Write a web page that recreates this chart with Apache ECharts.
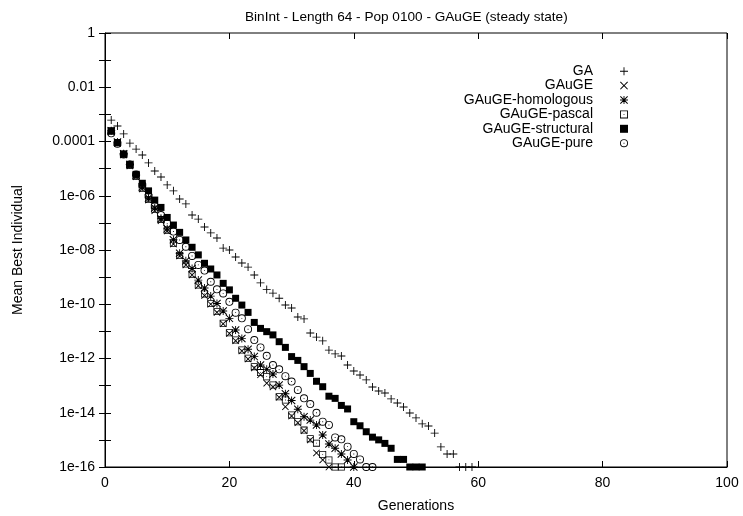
<!DOCTYPE html>
<html>
<head>
<meta charset="utf-8">
<script src="https://cdn.jsdelivr.net/npm/echarts@6/dist/echarts.min.js"></script>
<style>
html,body{margin:0;padding:0;background:#fff;}
#chart{width:743px;height:516px;}
</style>
</head>
<body>
<div id="chart"></div>
<script>
// log10 of "Mean Best Individual" per generation (generation 1, 2, 3, ...)
const seriesNames = ['GA', 'GAuGE', 'GAuGE-homologous', 'GAuGE-pascal', 'GAuGE-structural', 'GAuGE-pure'];

const gaLog = [-3.21,-3.43,-3.72,-4.06,-4.28,-4.50,-4.79,-5.09,-5.31,-5.60,
  -5.82,-6.12,-6.30,-6.71,-6.86,-7.15,-7.37,-7.56,-7.93,-8.00,
  -8.26,-8.48,-8.63,-8.92,-9.21,-9.46,-9.59,-9.78,-10.03,-10.14,
  -10.47,-10.54,-11.06,-11.21,-11.35,-11.69,-11.83,-11.91,-12.24,-12.46,
  -12.61,-12.79,-13.05,-13.20,-13.27,-13.49,-13.64,-13.79,-14.01,-14.19,
  -14.41,-14.49,-14.75,-15.26,-15.52,-15.52,-16,-16,-16];

const gaugeLog = [-3.63,-4.07,-4.50,-4.90,-5.30,-5.75,-6.16,-6.55,-6.92,-7.30,
  -7.78,-8.22,-8.55,-8.92,-9.32,-9.68,-10.00,-10.30,-10.72,-11.08,
  -11.35,-11.72,-12.02,-12.35,-12.60,-12.91,-13.05,-13.43,-13.78,-14.12,
  -14.37,-14.66,-15.00,-15.48,-15.74,-16];

const homologousLog = [-3.60,-4.02,-4.45,-4.85,-5.25,-5.68,-6.08,-6.45,-6.85,-7.22,
  -7.62,-8.12,-8.40,-8.68,-9.11,-9.40,-9.70,-9.97,-10.25,-10.52,
  -10.95,-11.26,-11.66,-11.93,-12.24,-12.40,-12.57,-12.98,-13.30,-13.55,
  -13.87,-14.15,-14.27,-14.45,-14.82,-15.15,-15.31,-15.52,-15.74,-16];

const pascalLog = [-3.60,-4.05,-4.48,-4.88,-5.28,-5.72,-6.14,-6.50,-6.88,-7.27,
  -7.75,-8.20,-8.52,-8.89,-9.29,-9.62,-9.97,-10.27,-10.70,-11.05,
  -11.32,-11.69,-11.99,-12.30,-12.52,-12.67,-12.98,-13.41,-13.53,-14.08,
  -14.33,-14.64,-14.96,-15.12,-15.54,-15.74,-16,-16];

const structuralLog = [-3.62,-4.04,-4.46,-4.84,-5.21,-5.54,-5.82,-6.16,-6.43,-6.80,
  -7.08,-7.35,-7.63,-7.90,-8.18,-8.49,-8.70,-8.92,-9.23,-9.47,
  -9.78,-10.03,-10.30,-10.67,-10.89,-11.01,-11.13,-11.38,-11.59,-11.93,
  -12.07,-12.30,-12.55,-12.84,-13.04,-13.39,-13.47,-13.73,-13.86,-14.33,
  -14.48,-14.70,-14.90,-15.00,-15.13,-15.31,-15.72,-15.72,-16,-16,-16];

const pureLog = [-3.70,-4.08,-4.48,-4.85,-5.22,-5.60,-6.00,-6.38,-6.71,-7.02,
  -7.32,-7.63,-7.88,-8.22,-8.55,-8.76,-9.17,-9.45,-9.60,-9.91,
  -10.31,-10.52,-10.92,-11.32,-11.59,-11.90,-12.24,-12.40,-12.65,-12.85,
  -13.16,-13.47,-13.68,-14.00,-14.33,-14.45,-14.91,-14.98,-15.25,-15.52,
  -15.72,-16,-16];

const xTicks = [0, 20, 40, 60, 80, 100];

// marker shapes (gnuplot-like point types)
const SYM_PLUS = 'path://M4,0H5V4H9V5H5V9H4V5H0V4H4Z';
const SYM_CROSS = 'path://M0,0.8L0.8,0L4.5,3.7L8.2,0L9,0.8L5.3,4.5L9,8.2L8.2,9L4.5,5.3L0.8,9L0,8.2L3.7,4.5Z';
const SYM_STAR = 'path://M4,0H5V4H9V5H5V9H4V5H0V4H4Z M0,0.8L0.8,0L4.5,3.7L8.2,0L9,0.8L5.3,4.5L9,8.2L8.2,9L4.5,5.3L0.8,9L0,8.2L3.7,4.5Z';
const SYM_BOXDOT = 'path://M0,0H9V9H0Z M1,1V8H8V1Z M4,4H5V5H4Z';
const SYM_BOX = 'path://M0,0H9V9H0Z';
const SYM_CIRCDOT = 'path://M4.5,0A4.5,4.5 0 1 1 4.5,9A4.5,4.5 0 1 1 4.5,0Z M4.5,1A3.5,3.5 0 1 0 4.5,8A3.5,3.5 0 1 0 4.5,1Z M4,4H5V5H4Z';

const FONT = 'Liberation Sans, Arial, Helvetica, sans-serif';

function toData(logs) {
  return logs.map((e, i) => [i + 1, Math.pow(10, e)]);
}

function yFmt(v) {
  const e = Math.round(Math.log10(v));
  if (e % 2 !== 0) return '';
  if (e >= -4) return e === 0 ? '1' : Math.pow(10, e).toFixed(-e);
  return '1e-' + String(-e).padStart(2, '0');
}

const defs = [
  [seriesNames[0], gaLog, SYM_PLUS, 8],
  [seriesNames[1], gaugeLog, SYM_CROSS, 7],
  [seriesNames[2], homologousLog, SYM_STAR, 8],
  [seriesNames[3], pascalLog, SYM_BOXDOT, 7],
  [seriesNames[4], structuralLog, SYM_BOX, 7],
  [seriesNames[5], pureLog, SYM_CIRCDOT, 8]
];

const chart = echarts.init(document.getElementById('chart'), null, {renderer: 'canvas'});

const tickStyle = {show: true, inside: true, length: 6, lineStyle: {color: '#000', width: 1}};

chart.setOption({
  animation: false,
  backgroundColor: '#fff',
  textStyle: {fontFamily: FONT},
  title: {
    text: 'BinInt - Length 64 - Pop 0100 - GAuGE (steady state)',
    left: 240, top: 5,
    textStyle: {fontFamily: FONT, fontSize: 13.6, fontWeight: 'normal', color: '#000'}
  },
  legend: {
    data: defs.map(d => ({name: d[0], icon: d[2]})),
    orient: 'vertical',
    align: 'right',
    right: 115, top: 64,
    padding: 0,
    itemGap: 0,
    itemWidth: 52,
    itemHeight: 8,
    selectedMode: false,
    textStyle: {fontFamily: FONT, fontSize: 14, color: '#000', lineHeight: 14.4}
  },
  grid: {
    left: 105, right: 16, top: 33, bottom: 49,
    outerBoundsMode: 'none',
    containLabel: false,
    show: true, borderColor: '#000', borderWidth: 1, backgroundColor: 'transparent'
  },
  xAxis: [{
    type: 'value', min: xTicks[0], max: xTicks[xTicks.length - 1], interval: xTicks[1] - xTicks[0],
    name: 'Generations', nameLocation: 'middle', nameGap: 32,
    nameTextStyle: {fontFamily: FONT, fontSize: 14, color: '#000'},
    axisLine: {show: true, lineStyle: {color: '#000', width: 1}},
    axisTick: tickStyle,
    axisLabel: {color: '#000', fontFamily: FONT, fontSize: 14, margin: 9},
    splitLine: {show: false}
  }, {
    type: 'value', position: 'top', min: xTicks[0], max: xTicks[xTicks.length - 1], interval: xTicks[1] - xTicks[0],
    axisLine: {show: false}, axisTick: tickStyle, axisLabel: {show: false}, splitLine: {show: false}
  }],
  yAxis: [{
    type: 'log', logBase: 10, min: 1e-16, max: 1, interval: 1,
    name: 'Mean Best Individual', nameLocation: 'middle', nameGap: 80,
    nameTextStyle: {fontFamily: FONT, fontSize: 14, color: '#000'},
    axisLine: {show: true, lineStyle: {color: '#000', width: 1}},
    axisTick: Object.assign({}, tickStyle, {length: 6}),
    axisLabel: {color: '#000', fontFamily: FONT, fontSize: 14, margin: 10, formatter: yFmt, showMinLabel: true, showMaxLabel: true},
    splitLine: {show: false}
  }, {
    type: 'log', logBase: 10, min: 1e-16, max: 1, interval: 1, position: 'right',
    axisLine: {show: false}, axisTick: tickStyle, axisLabel: {show: false}, splitLine: {show: false}
  }],
  series: defs.map(d => ({
    name: d[0],
    type: 'scatter',
    xAxisIndex: 0, yAxisIndex: 0,
    symbol: d[2],
    symbolSize: d[3],
    symbolKeepAspect: true,
    clip: false,
    itemStyle: {color: '#000', opacity: 1},
    emphasis: {disabled: true},
    data: toData(d[1])
  }))
});
</script>
</body>
</html>
